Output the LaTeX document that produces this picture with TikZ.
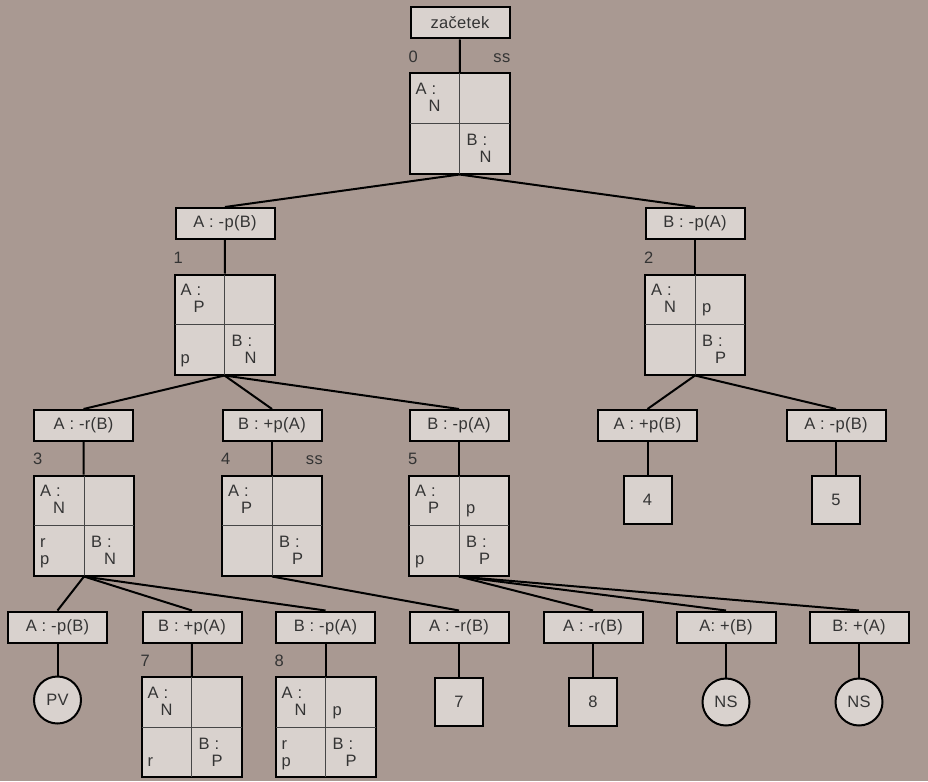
\documentclass[tikz,border=0pt]{standalone}
\usepackage{fontspec}
\setmainfont[LetterSpace=2]{Liberation Sans}
\definecolor{bgcol}{RGB}{169,153,146}
\definecolor{boxcol}{RGB}{217,210,206}
\definecolor{txtcol}{RGB}{52,52,52}
\definecolor{divcol}{RGB}{70,70,70}
\tikzset{
  act/.style={draw=black, line width=2pt, fill=boxcol, minimum width=99pt, minimum height=31pt, inner sep=0pt},
  gridbox/.style={draw=black, line width=2pt, fill=boxcol, minimum width=100pt, minimum height=100pt, inner sep=0pt},
  leaf/.style={draw=black, line width=2pt, fill=boxcol, minimum width=48pt, minimum height=48pt, inner sep=0pt},
  endc/.style={circle, draw=black, line width=2pt, fill=boxcol, minimum size=47pt, inner sep=0pt},
  cell/.style={anchor=base west, inner sep=0pt},
  tagl/.style={anchor=base west, inner sep=0pt},
  tagr/.style={anchor=base east, inner sep=0pt},
  link/.style={line width=2pt},
  divider/.style={line width=1pt, draw=divcol, shorten <=1pt, shorten >=1pt}
}
% a state: square with two dividers
\newcommand\statebox[3]{%
  \node[gridbox] (#1) at (#2,#3) {};
  \draw[divider] (#1.north) -- (#1.south);
  \draw[divider] (#1.west) -- (#1.east);}
% text inside a quarter of a state, offset from an anchor
\newcommand\cellnote[5]{\node[cell] (#1) at ([shift={(#3,#4)}]#2) {#5};}
\begin{document}
\begin{tikzpicture}[x=1pt,y=-1pt,font=\fontsize{16.5}{19}\selectfont,
  every node/.append style={text=txtcol}]
\fill[bgcol] (0,0) rectangle (928,781);
\useasboundingbox (0,0) rectangle (928,781);

% root
\node[act] (start) at (460,23) {začetek};
\statebox{g0}{459.5}{123.5}
\node[tagl] (g0n) at ([yshift=10pt]g0.north west) {0};
\node[tagr] (g0s) at ([yshift=10pt]g0.north east) {ss};
\cellnote{g0a}{g0.north west}{7}{22}{A :}
\cellnote{g0b}{g0.north west}{20}{39}{N}
\cellnote{g0c}{g0.center}{7}{22}{B :}
\cellnote{g0d}{g0.center}{20}{39}{N}
\draw[link] (start) -- (g0);

% level 1
\node[act] (a1) at (225,223.5) {A : -p(B)};
\node[act] (a2) at (695,223.5) {B : -p(A)};
\draw[link] (g0.south) -- (a1.north);
\draw[link] (g0.south) -- (a2.north);

\statebox{g1}{224.5}{324.5}
\node[tagl] (g1n) at ([yshift=10pt]g1.north west) {1};
\cellnote{g1a}{g1.north west}{7}{22}{A :}
\cellnote{g1b}{g1.north west}{20}{39}{P}
\cellnote{g1c}{g1.center}{7}{22}{B :}
\cellnote{g1d}{g1.center}{20}{39}{N}
\cellnote{g1e}{g1.west}{7}{39}{p}

\statebox{g2}{695}{324.5}
\node[tagl] (g2n) at ([yshift=10pt]g2.north west) {2};
\cellnote{g2a}{g2.north west}{7}{22}{A :}
\cellnote{g2b}{g2.north west}{20}{39}{N}
\cellnote{g2e}{g2.north}{7}{39}{p}
\cellnote{g2c}{g2.center}{7}{22}{B :}
\cellnote{g2d}{g2.center}{20}{39}{P}
\draw[link] (a1) -- (g1);
\draw[link] (a2) -- (g2);

% level 2
\node[act] (a3) at (83.5,425.5) {A : -r(B)};
\node[act] (a4) at (272,425.5) {B : +p(A)};
\node[act] (a5) at (459,425.5) {B : -p(A)};
\node[act] (a6) at (647.5,425.5) {A : +p(B)};
\node[act] (a7) at (836,425.5) {A : -p(B)};
\draw[link] (g1.south) -- (a3.north);
\draw[link] (g1.south) -- (a4.north);
\draw[link] (g1.south) -- (a5.north);
\draw[link] (g2.south) -- (a6.north);
\draw[link] (g2.south) -- (a7.north);

\statebox{g3}{84}{525.5}
\node[tagl] (g3n) at ([yshift=10pt]g3.north west) {3};
\cellnote{g3a}{g3.north west}{7}{22}{A :}
\cellnote{g3b}{g3.north west}{20}{39}{N}
\cellnote{g3e}{g3.west}{7}{22}{r}
\cellnote{g3f}{g3.west}{7}{39}{p}
\cellnote{g3c}{g3.center}{7}{22}{B :}
\cellnote{g3d}{g3.center}{20}{39}{N}

\statebox{g4}{272}{525.5}
\node[tagl] (g4n) at ([yshift=10pt]g4.north west) {4};
\node[tagr] (g4s) at ([yshift=10pt]g4.north east) {ss};
\cellnote{g4a}{g4.north west}{7}{22}{A :}
\cellnote{g4b}{g4.north west}{20}{39}{P}
\cellnote{g4c}{g4.center}{7}{22}{B :}
\cellnote{g4d}{g4.center}{20}{39}{P}

\statebox{g5}{459}{525.5}
\node[tagl] (g5n) at ([yshift=10pt]g5.north west) {5};
\cellnote{g5a}{g5.north west}{7}{22}{A :}
\cellnote{g5b}{g5.north west}{20}{39}{P}
\cellnote{g5e}{g5.north}{7}{39}{p}
\cellnote{g5f}{g5.west}{7}{39}{p}
\cellnote{g5c}{g5.center}{7}{22}{B :}
\cellnote{g5d}{g5.center}{20}{39}{P}

\node[leaf] (l4) at (647.5,500) {4};
\node[leaf] (l5) at (836,500) {5};
\draw[link] (a3) -- (g3);
\draw[link] (a4) -- (g4);
\draw[link] (a5) -- (g5);
\draw[link] (a6) -- (l4);
\draw[link] (a7) -- (l5);

% level 3
\node[act] (b1) at (57.5,627) {A : -p(B)};
\node[act] (b2) at (192,627) {B : +p(A)};
\node[act] (b3) at (325.5,627) {B : -p(A)};
\node[act] (b4) at (459,627) {A : -r(B)};
\node[act] (b5) at (593,627) {A : -r(B)};
\node[act] (b6) at (726,627) {A: +(B)};
\node[act] (b7) at (859,627) {B: +(A)};
\draw[link] (g3.south) -- (b1.north);
\draw[link] (g3.south) -- (b2.north);
\draw[link] (g3.south) -- (b3.north);
\draw[link] (g4.south) -- (b4.north);
\draw[link] (g5.south) -- (b5.north);
\draw[link] (g5.south) -- (b6.north);
\draw[link] (g5.south) -- (b7.north);

\node[endc] (pv) at (57.5,700) {PV};

\statebox{g7}{191.5}{727}
\node[tagl] (g7n) at ([yshift=10pt]g7.north west) {7};
\cellnote{g7a}{g7.north west}{7}{22}{A :}
\cellnote{g7b}{g7.north west}{20}{39}{N}
\cellnote{g7e}{g7.west}{7}{39}{r}
\cellnote{g7c}{g7.center}{7}{22}{B :}
\cellnote{g7d}{g7.center}{20}{39}{P}

\statebox{g8}{325.5}{727}
\node[tagl] (g8n) at ([yshift=10pt]g8.north west) {8};
\cellnote{g8a}{g8.north west}{7}{22}{A :}
\cellnote{g8b}{g8.north west}{20}{39}{N}
\cellnote{g8e}{g8.north}{7}{39}{p}
\cellnote{g8f}{g8.west}{7}{22}{r}
\cellnote{g8g}{g8.west}{7}{39}{p}
\cellnote{g8c}{g8.center}{7}{22}{B :}
\cellnote{g8d}{g8.center}{20}{39}{P}

\node[leaf] (l7) at (459,701.5) {7};
\node[leaf] (l8) at (593,701.5) {8};
\node[endc] (ns1) at (726,702) {NS};
\node[endc] (ns2) at (859,702) {NS};
\draw[link] (b1) -- (pv);
\draw[link] (b2) -- (g7);
\draw[link] (b3) -- (g8);
\draw[link] (b4) -- (l7);
\draw[link] (b5) -- (l8);
\draw[link] (b6) -- (ns1);
\draw[link] (b7) -- (ns2);
\end{tikzpicture}
\end{document}
